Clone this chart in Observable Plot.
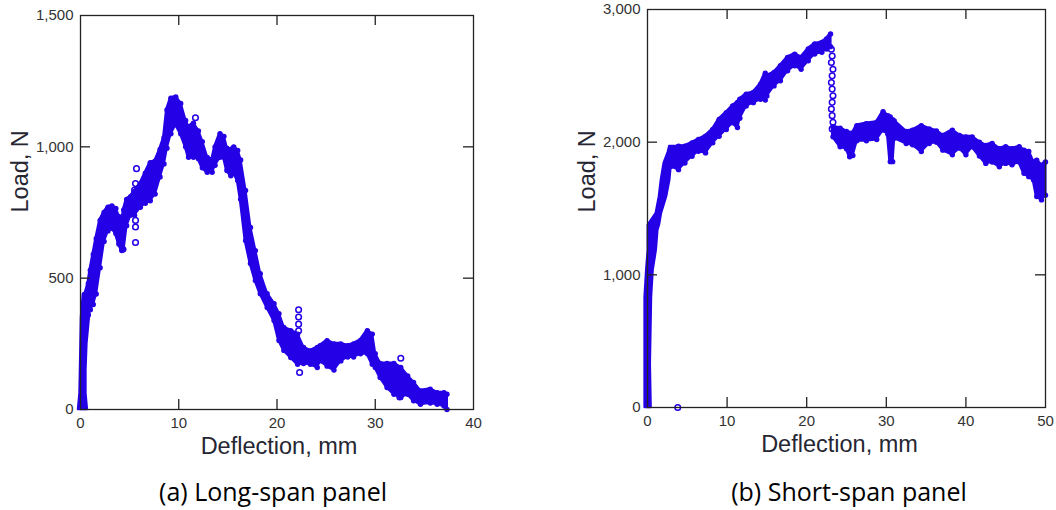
<!DOCTYPE html>
<html><head><meta charset="utf-8">
<script src="https://cdn.jsdelivr.net/npm/d3@7"></script>
<script src="https://cdn.jsdelivr.net/npm/@observablehq/plot@0.6"></script>
<style>
body{margin:0;background:#fff;}
#wrap{position:relative;width:1056px;height:510px;overflow:hidden;background:#fff;}
.panel{position:absolute;top:0;}
.cap{position:absolute;top:479px;font-family:"Open Sans",sans-serif;font-size:25px;line-height:1;color:#000;transform:translateX(-50%);white-space:nowrap;}
</style></head><body>
<div id="wrap">
<div id="a" class="panel" style="left:0"></div>
<div id="b" class="panel" style="left:560px"></div>
<div id="capA" class="cap" style="left:273px"></div>
<div id="capB" class="cap" style="left:849px"></div>
</div>
<script>
// ---------- (a) Long-span panel ----------
const longX  = [0.5,0.8,1.0,1.3,1.6,2.0,2.4,2.8,3.2,3.6,3.9,4.2,4.4,4.7,5.1,5.5,6.1,6.6,7.1,7.6,8.1,8.5,8.8,9.2,9.7,10.2,10.7,11.0,11.5,12.0,12.4,12.9,13.4,13.7,14.2,14.6,14.9,15.3,15.6,16.0,16.3,16.8,17.3,17.8,18.3,19.0,19.7,20.2,20.7,21.4,22.1,22.7,23.4,24.1,24.4,25.1,25.8,26.5,27.2,27.8,28.5,29.2,29.7,30.0,30.5,31.2,31.9,32.6,33.3,33.9,34.6,35.6,36.3,37.0,37.3];
const longLo = [300,360,380,400,440,540,640,680,690,670,630,605,610,700,740,740,770,785,795,820,885,935,995,1050,1085,1050,1000,960,960,955,920,903,903,930,960,960,910,890,900,872,800,643,556,491,441,388,339,263,225,198,172,175,172,160,185,165,150,185,200,200,212,212,172,160,122,84,58,46,58,33,20,25,20,13,0];
const longHi = [440,480,530,590,650,720,750,770,775,765,735,700,760,800,810,830,860,900,940,945,990,1035,1140,1185,1190,1165,1100,1075,1090,1060,1020,960,950,1000,1050,1040,995,990,1000,986,950,834,693,605,517,441,403,365,312,300,287,236,223,236,243,262,250,250,243,250,263,300,287,212,175,175,175,160,128,103,71,77,64,64,58];
// initial steep rise (load, deflection range)
const longRiseY  = [0,60,150,250,350,440];
const longRiseLo = [-0.2,-0.05,0.0,0.05,0.1,0.3];
const longRiseHi = [0.7,0.55,0.55,0.65,0.9,1.05];
// isolated open circles
const longOutX = [5.7,5.6,5.5,5.6,5.6,5.6,11.7,22.2,22.2,22.2,22.2,22.3,32.6,32.5,4.3];
const longOutY = [917,860,835,720,695,636,1111,380,352,325,300,141,195,48,610];
const longXTicks = [0,10,20,30,40];
const longYTicks = [0,500,1000,1500];

// ---------- (b) Short-span panel ----------
const shortX  = [3.0,3.9,4.7,5.6,6.4,7.3,8.2,9.0,9.9,10.7,11.3,11.6,12.4,13.3,14.2,14.8,15.0,15.9,16.7,17.6,18.5,19.3,20.2,21.0,21.9,22.5,23.0];
const shortLo = [1818,1793,1843,1894,1932,1919,1995,2045,2096,2146,2110,2180,2273,2298,2323,2317,2348,2424,2462,2538,2576,2550,2613,2664,2677,2702,2720];
const shortHi = [1944,1970,1970,1995,2020,2045,2096,2172,2222,2273,2300,2323,2361,2374,2437,2520,2500,2525,2576,2639,2664,2639,2702,2740,2752,2778,2815];
const postX  = [23.3,24.2,25.0,25.4,25.8,26.3,27.5,28.8,29.6,30.2,30.5,30.8,31.0,32.5,33.3,34.4,35.4,36.3,37.1,38.3,39.2,40.0,40.8,41.7,42.5,43.3,44.2,45.0,45.8,46.7,47.3,47.9,48.5,48.9,49.5,50.0];
const postLo = [2040,1966,1950,1890,1900,2010,2010,2020,2092,2060,1853,1853,2030,1990,1980,1930,1990,2000,1940,1905,1955,1905,1965,1895,1840,1850,1815,1840,1830,1850,1765,1740,1715,1590,1565,1600];
const postHi = [2116,2106,2080,2068,2070,2125,2140,2150,2230,2200,2190,2170,2160,2080,2090,2125,2100,2085,2050,2090,2050,2040,2040,2000,1975,1990,1950,1965,1950,1965,1940,1930,1850,1865,1825,1850];
const shortRiseY  = [0,324,830,1032,1184,1336,1374,1462,1589,1715,1842,1918,1968];
const shortRiseLo = [-0.3,-0.3,-0.3,-0.1,0.1,0.1,0.1,1.1,1.5,1.75,2.1,2.6,2.8];
const shortRiseHi = [0.45,0.35,0.5,0.7,1.1,1.3,1.5,1.75,2.4,2.8,3.0,4.0,5.0];
const dropX = [23.1,23.2,23.1,23.3,23.2,23.1,23.2,23.3,23.2,23.1,23.2,23.3,23.2];
const dropY = [2700,2650,2600,2550,2500,2450,2400,2350,2300,2250,2200,2150,2100];
const shortOutX = [3.8];
const shortOutY = [0];
const shortXTicks = [0,10,20,30,40,50];
const shortYTicks = [0,1000,2000,3000];

const xTitle = "Deflection, mm";
const yTitle = "Load, N";
const captions = ["(a) Long-span panel", "(b) Short-span panel"];

const BLUE = "#2400e6";
const INK = "#222";

function panel(o) {
  const iw = o.width - o.ml - o.mr, ih = o.height - o.mt - o.mb;
  const innerX = o.xTicks.slice(1, -1), innerY = o.yTicks.slice(1, -1);
  const marks = [];
  for (const b of o.bands) {
    const d = b.x.map((x, i) => ({x, lo: b.lo[i], hi: b.hi[i]}));
    marks.push(Plot.areaY(d, {x: "x", y1: "lo", y2: "hi", fill: BLUE, stroke: BLUE, strokeWidth: 3, strokeLinejoin: "round"}));
    marks.push(Plot.dot(d, {x: "x", y: "hi", r: 2.7, fill: BLUE}));
    marks.push(Plot.dot(d, {x: "x", y: "lo", r: 2.7, fill: BLUE}));
  }
  const rd = o.rise.y.map((y, i) => ({y, lo: o.rise.lo[i], hi: o.rise.hi[i]}));
  marks.push(Plot.areaX(rd, {y: "y", x1: "lo", x2: "hi", fill: BLUE, stroke: BLUE, strokeWidth: 2.5, strokeLinejoin: "round"}));
  for (const p of o.points) {
    const d = p.x.map((x, i) => ({x, y: p.y[i]}));
    marks.push(Plot.dot(d, {x: "x", y: "y", r: 2.8, stroke: BLUE, strokeWidth: 1.5, fill: "none"}));
  }
  marks.push(
    Plot.frame({stroke: INK, strokeWidth: 1.3}),
    Plot.tickX(innerX, {x: d => d, insetTop: ih - 10, stroke: INK, strokeWidth: 1.3}),
    Plot.tickX(innerX, {x: d => d, insetBottom: ih - 10, stroke: INK, strokeWidth: 1.3}),
    Plot.tickY(innerY, {y: d => d, insetRight: iw - 10, stroke: INK, strokeWidth: 1.3}),
    Plot.tickY(innerY, {y: d => d, insetLeft: iw - 10, stroke: INK, strokeWidth: 1.3}),
    Plot.axisX(o.xTicks, {tickSize: 0, tickPadding: 8, tickFormat: d3.format(","), label: null, fill: "#333"}),
    Plot.axisY(o.yTicks, {tickSize: 0, tickPadding: 7, tickFormat: d3.format(","), label: null, fill: "#333"}),
    Plot.text([xTitle], {text: d => d, frameAnchor: "bottom", dy: 44, dx: o.xdx, fontSize: 23.5, fill: "#262633"}),
    Plot.text([yTitle], {text: d => d, frameAnchor: "left", rotate: -90, dx: -60, dy: o.ydy, fontSize: 23.5, fill: "#262633"})
  );
  return Plot.plot({
    width: o.width, height: o.height,
    marginLeft: o.ml, marginRight: o.mr, marginTop: o.mt, marginBottom: o.mb,
    x: {domain: o.xDomain},
    y: {domain: o.yDomain},
    style: {fontFamily: "'Liberation Sans', Arial, sans-serif", fontSize: "15px", color: "#333", background: "transparent", overflow: "visible"},
    marks
  });
}

document.getElementById("a").append(panel({
  width: 500, height: 470, ml: 80, mr: 27, mt: 15, mb: 61,
  xDomain: [0, 40], yDomain: [0, 1500],
  xTicks: longXTicks, yTicks: longYTicks, xdx: 2, ydy: 0,
  bands: [{x: longX, lo: longLo, hi: longHi}],
  rise: {y: longRiseY, lo: longRiseLo, hi: longRiseHi},
  points: [{x: longOutX, y: longOutY}]
}));

document.getElementById("b").append(panel({
  width: 496, height: 470, ml: 87, mr: 11, mt: 9, mb: 63,
  xDomain: [0, 50], yDomain: [0, 3000],
  xTicks: shortXTicks, yTicks: shortYTicks, xdx: -7, ydy: 4,
  bands: [{x: shortX, lo: shortLo, hi: shortHi}, {x: postX, lo: postLo, hi: postHi}],
  rise: {y: shortRiseY, lo: shortRiseLo, hi: shortRiseHi},
  points: [{x: dropX, y: dropY}, {x: shortOutX, y: shortOutY}]
}));

document.getElementById("capA").textContent = captions[0];
document.getElementById("capB").textContent = captions[1];
</script>
</body></html>
